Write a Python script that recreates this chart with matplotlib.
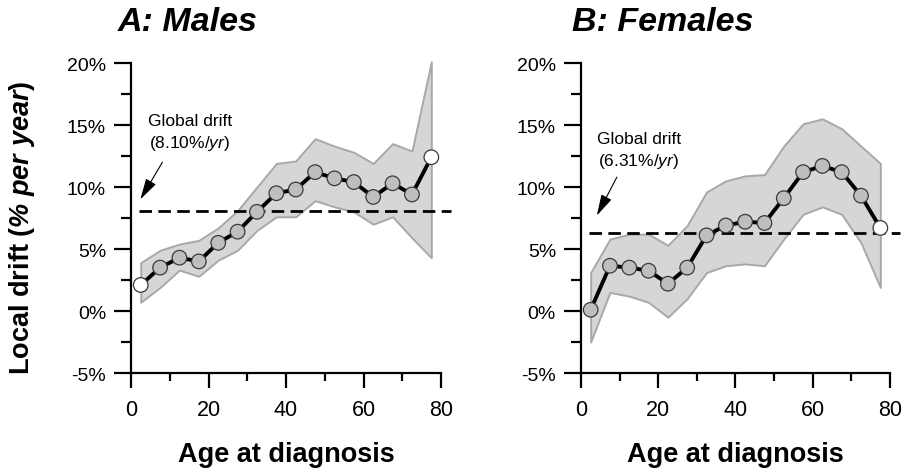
import numpy as np
import matplotlib.pyplot as plt
from matplotlib.ticker import MultipleLocator

plt.rcParams['font.family'] = ['Liberation Sans', 'DejaVu Sans']
plt.rcParams['mathtext.fontset'] = 'custom'
plt.rcParams['mathtext.rm'] = 'Liberation Sans'
plt.rcParams['mathtext.it'] = 'Liberation Sans:italic'
plt.rcParams['mathtext.bf'] = 'Liberation Sans:bold'
plt.rcParams['mathtext.bfit'] = 'Liberation Sans:bold:italic'

# age group midpoints
ages = [2.5, 7.5, 12.5, 17.5, 22.5, 27.5, 32.5, 37.5, 42.5, 47.5,
        52.5, 57.5, 62.5, 67.5, 72.5, 77.5]

# local drifts (% per year) with 95% CI
male_drift = [2.1, 3.5, 4.3, 4.0, 5.5, 6.4, 8.0, 9.5, 9.8, 11.2,
              10.7, 10.4, 9.2, 10.3, 9.4, 12.4]
male_upper = [3.9, 4.9, 5.4, 5.7, 6.7, 8.1, 10.0, 11.9, 12.1, 13.9,
              13.3, 12.8, 11.9, 13.5, 12.9, 20.1]
male_lower = [0.7, 1.9, 3.3, 2.8, 4.1, 4.9, 6.5, 7.6, 7.6, 8.9,
              8.4, 8.0, 7.0, 7.6, 5.9, 4.3]
male_global = 8.10

female_drift = [0.1, 3.65, 3.5, 3.25, 2.2, 3.5, 6.1, 6.9, 7.2, 7.1,
                9.1, 11.2, 11.7, 11.2, 9.3, 6.7]
female_upper = [3.1, 5.8, 6.2, 6.2, 5.3, 6.9, 9.6, 10.5, 10.9, 11.0,
                13.3, 15.1, 15.5, 14.7, 13.3, 11.9]
female_lower = [-2.5, 1.5, 1.2, 0.7, -0.5, 1.0, 3.1, 3.65, 3.8, 3.65,
                5.8, 7.8, 8.4, 7.8, 5.5, 1.9]
female_global = 6.31

yticks = [-5, 0, 5, 10, 15, 20]
ytick_labels = ["-5%", "0%", "5%", "10%", "15%", "20%"]
xticks = [0, 20, 40, 60, 80]

fig = plt.figure(figsize=(9.03, 4.77), dpi=100)
ax1 = fig.add_axes([0.1451, 0.2159, 0.3433, 0.6499])
ax2 = fig.add_axes([0.6434, 0.2159, 0.3422, 0.6499])


def panel(ax, drift, lower, upper, glob, white_first, arrow_from, arrow_to, txt_xy):
    ax.fill_between(ages, lower, upper, facecolor='#d6d6d6', edgecolor='#a8a8a8',
                    linewidth=1.4, zorder=1, clip_on=False)
    ax.plot([2, 82.5], [glob, glob], color='black', lw=2.0,
            linestyle=(0, (4.5, 2.3)), zorder=2, clip_on=False)
    ax.plot(ages, drift, color='black', lw=2.8, zorder=3, clip_on=False)
    faces = ['#bebebe'] * len(ages)
    faces[-1] = 'white'
    if white_first:
        faces[0] = 'white'
    ax.scatter(ages, drift, s=110, c=faces, edgecolors='#3a3a3a', linewidths=0.9,
               zorder=4, clip_on=False)
    ax.annotate('', xy=arrow_to, xytext=arrow_from,
                arrowprops=dict(arrowstyle='-|>,head_length=1.3,head_width=0.35',
                                color='black', lw=0.8, shrinkA=0, shrinkB=0))
    ax.text(txt_xy[0], txt_xy[1], 'Global drift', fontsize=12.5, ha='left', va='center')
    ax.text(txt_xy[0] + 0.2, txt_xy[1] - 1.75, r'($\mathit{%.2f\%%/yr}$)' % glob,
            fontsize=12.5, ha='left', va='center')

    ax.set_xlim(0, 80)
    ax.set_ylim(-5, 20)
    ax.set_xticks(xticks)
    ax.xaxis.set_minor_locator(MultipleLocator(10))
    ax.set_yticks(yticks)
    ax.set_yticklabels(ytick_labels)
    ax.yaxis.set_minor_locator(MultipleLocator(2.5))
    for s in ['top', 'right']:
        ax.spines[s].set_visible(False)
    for s in ['left', 'bottom']:
        ax.spines[s].set_linewidth(1.6)
    ax.tick_params(axis='y', which='major', length=12, width=1.6, pad=6, labelsize=14)
    ax.tick_params(axis='y', which='minor', length=7, width=1.6)
    ax.tick_params(axis='x', which='major', length=11, width=1.6, pad=8, labelsize=15.5)
    ax.tick_params(axis='x', which='minor', length=6, width=1.6)
    ax.set_xlabel('Age at diagnosis', fontsize=19.5, fontweight='bold', labelpad=15)


panel(ax1, male_drift, male_lower, male_upper, male_global, True,
      (8.1, 12.0), (2.4, 9.0), (4.5, 15.35))
panel(ax2, female_drift, female_lower, female_upper, female_global, False,
      (9.3, 10.8), (4.1, 7.7), (4.1, 13.9))

fig.text(118 / 903, 0.952, 'A: Males', fontsize=24.5, fontweight='bold',
         fontstyle='italic', ha='left', va='center')
fig.text(572 / 903, 0.952, 'B: Females', fontsize=24.5, fontweight='bold',
         fontstyle='italic', ha='left', va='center')
fig.text(22 / 903, 0.522, r'Local drift ($\mathbfit{\%\ per\ year}$)', fontsize=19.5,
         fontweight='bold', rotation=90, ha='center', va='center')

plt.savefig('out.png', dpi=100)
